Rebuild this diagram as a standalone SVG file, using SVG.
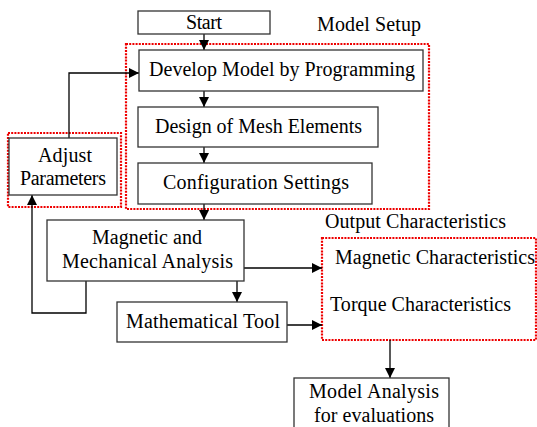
<svg xmlns="http://www.w3.org/2000/svg" width="537" height="427" viewBox="0 0 537 427">
<style>
.box{fill:#fff;stroke:#333;stroke-width:1.3}
.grp{fill:none;stroke:#e00;stroke-width:2.2;stroke-dasharray:2 1.2}
text{font-family:'Liberation Serif','DejaVu Serif',serif;font-size:20px;fill:#000}
.c{stroke:#000;stroke-width:1.3;fill:none}
</style>
<defs>
<marker id="ah" markerUnits="userSpaceOnUse" markerWidth="10" markerHeight="10" refX="10" refY="5" orient="auto" viewBox="0 0 10 10">
<path d="M0,0 L10,5 L0,10 z" fill="#000"/>
</marker>
</defs>
<rect width="537" height="427" fill="#fff"/>
<g id="model-setup-group">
<rect class="grp" x="126" y="44" width="303" height="165"/>
<text x="317" y="31" textLength="104" lengthAdjust="spacing">Model Setup</text>
</g>
<g id="adjust-group">
<rect class="grp" x="8" y="133" width="113" height="74"/>
</g>
<g id="output-group">
<rect class="grp" x="322" y="238" width="214" height="102"/>
<text x="325" y="228" textLength="181" lengthAdjust="spacing">Output Characteristics</text>
<text x="335" y="264" textLength="200" lengthAdjust="spacing">Magnetic Characteristics</text>
<text x="330" y="311" textLength="181" lengthAdjust="spacing">Torque Characteristics</text>
</g>
<g id="connectors">
<path class="c" d="M204,34 V50" marker-end="url(#ah)"/>
<path class="c" d="M204,91 V107" marker-end="url(#ah)"/>
<path class="c" d="M204,147 V163" marker-end="url(#ah)"/>
<path class="c" d="M204,204 V220" marker-end="url(#ah)"/>
<path class="c" d="M69,138 V73 H139" marker-end="url(#ah)"/>
<path class="c" d="M86,281 V313 H32 V195" marker-end="url(#ah)"/>
<path class="c" d="M237,281 V302" marker-end="url(#ah)"/>
<path class="c" d="M244,268 H322" marker-end="url(#ah)"/>
<path class="c" d="M287,325 H322" marker-end="url(#ah)"/>
<path class="c" d="M390,340 V378" marker-end="url(#ah)"/>
</g>
<g id="start">
<rect class="box" x="138" y="11" width="132" height="23"/>
<text x="186" y="29" textLength="36" lengthAdjust="spacing">Start</text>
</g>
<g id="develop">
<rect class="box" x="139" y="50" width="284" height="41"/>
<text x="149" y="76" textLength="266" lengthAdjust="spacing">Develop Model by Programming</text>
</g>
<g id="mesh">
<rect class="box" x="138" y="107" width="240" height="40"/>
<text x="155" y="133" textLength="207" lengthAdjust="spacing">Design of Mesh Elements</text>
</g>
<g id="config">
<rect class="box" x="138" y="163" width="234" height="41"/>
<text x="163" y="189" textLength="186" lengthAdjust="spacing">Configuration Settings</text>
</g>
<g id="adjust">
<rect class="box" x="9" y="138" width="108" height="57"/>
<text x="38" y="162" textLength="54" lengthAdjust="spacing">Adjust</text>
<text x="20" y="185" textLength="86" lengthAdjust="spacing">Parameters</text>
</g>
<g id="analysis">
<rect class="box" x="47" y="220" width="197" height="61"/>
<text x="92" y="244" textLength="110" lengthAdjust="spacing">Magnetic and</text>
<text x="62" y="268" textLength="171" lengthAdjust="spacing">Mechanical Analysis</text>
</g>
<g id="math">
<rect class="box" x="117" y="302" width="170" height="40"/>
<text x="126" y="328" textLength="154" lengthAdjust="spacing">Mathematical Tool</text>
</g>
<g id="model-analysis">
<rect class="box" x="294" y="378" width="155" height="60"/>
<text x="309" y="398" textLength="130" lengthAdjust="spacing">Model Analysis</text>
<text x="314" y="422" textLength="120" lengthAdjust="spacing">for evaluations</text>
</g>
</svg>
